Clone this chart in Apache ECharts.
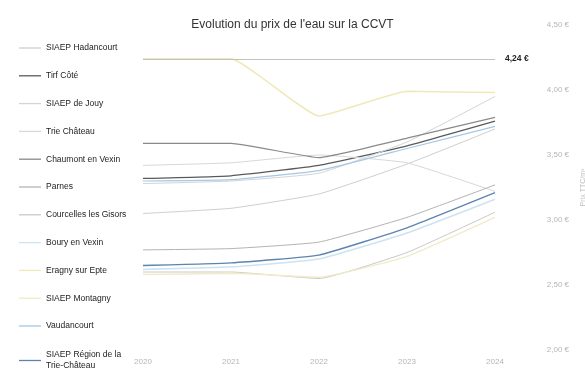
<!DOCTYPE html>
<html>
<head>
<meta charset="utf-8">
<script src="https://cdn.jsdelivr.net/npm/echarts@6/dist/echarts.min.js"></script>
<style>
  html, body { margin: 0; padding: 0; background: #fff; }
  #chart { width: 585px; height: 371px; }
</style>
</head>
<body>
<div id="chart"></div>
<script>
// Années
const years = ['2020', '2021', '2022', '2023', '2024'];

// Prix de l'eau (€ / m³) par commune ou syndicat
const names = [
  'SIAEP Hadancourt',
  'Tirf Côté',
  'SIAEP de Jouy',
  'Trie Château',
  'Chaumont en Vexin',
  'Parnes',
  'Courcelles les Gisors',
  'Boury en Vexin',
  'Eragny sur Epte',
  'SIAEP Montagny',
  'Vaudancourt',
  'SIAEP Région de la Trie-Château'
];

const hadancourt  = [3.05, 3.09, 3.20, 3.43, 3.70];
const tirfCote    = [3.32, 3.34, 3.42, 3.57, 3.76];
const jouy        = [3.28, 3.30, 3.36, 3.60, 3.95];
const trieChateau = [3.42, 3.44, 3.50, 3.44, 3.22];
const chaumont    = [3.59, 3.59, 3.48, 3.63, 3.79];
const parnes      = [2.77, 2.78, 2.83, 3.02, 3.27];
const courcelles  = [2.60, 2.60, 2.55, 2.75, 3.06];
const boury       = [2.62, 2.64, 2.70, 2.90, 3.16];
const eragny      = [4.24, 4.24, 3.80, 3.99, 3.98];
const montagny    = [2.58, 2.59, 2.56, 2.72, 3.02];
const vaudancourt = [3.30, 3.31, 3.38, 3.55, 3.72];
const regionTrie  = [2.65, 2.67, 2.73, 2.94, 3.21];

const values = [hadancourt, tirfCote, jouy, trieChateau, chaumont, parnes,
                courcelles, boury, eragny, montagny, vaudancourt, regionTrie];

// Échelle de l'axe des prix
const yMin = 2, yMax = 4.5, yStep = 0.5;

const colors = ['#cfcfcf', '#5a5a5a', '#d4d4d4', '#d8d8d8', '#8a8a8a', '#b3b3b3',
                '#c9c9c9', '#cde3f0', '#efe9b8', '#f0ecc8', '#a6c8e4', '#5d84b0'];
const widths = [1, 1.3, 1, 1, 1.2, 1, 1, 1.5, 1.5, 1.5, 1.2, 1.4];

const euro = v => v.toFixed(2).replace('.', ',') + ' €';

const series = names.map((name, i) => {
  const s = {
    name: name,
    type: 'line',
    data: values[i],
    smooth: 0.12,
    showSymbol: false,
    symbol: 'none',
    color: colors[i],
    lineStyle: { color: colors[i], width: widths[i] }
  };
  if (name === 'Eragny sur Epte') {
    s.markLine = {
      silent: true,
      symbol: 'none',
      data: [{ type: 'max' }],
      lineStyle: { color: '#c2c2c2', width: 1, type: 'solid' },
      label: {
        position: 'end',
        distance: 10,
        formatter: p => euro(p.value),
        fontSize: 8.5,
        fontWeight: 'bold',
        color: '#222'
      }
    };
  }
  return s;
});

// Style commun des deux blocs de légende
const legendBase = {
  orient: 'vertical',
  left: 19,
  padding: 0,
  itemWidth: 22,
  itemHeight: 8,
  itemGap: 16.8,
  icon: 'path://M0,4 L22,4 L22,5.3 L0,5.3 Z',
  textStyle: { fontSize: 8.5, color: '#222', lineHeight: 11, width: 84, overflow: 'break' }
};

const chart = echarts.init(document.getElementById('chart'), null, { renderer: 'canvas' });
chart.setOption({
  animation: false,
  backgroundColor: '#fff',
  textStyle: { fontFamily: 'Liberation Sans, Arial, sans-serif' },
  title: {
    text: "Evolution du prix de l'eau sur la CCVT",
    left: 'center',
    top: 14,
    textStyle: { fontSize: 12, fontWeight: 'normal', color: '#333' }
  },
  legend: [
    Object.assign({}, legendBase, { top: 42.5, data: names.slice(0, 11) }),
    Object.assign({}, legendBase, { top: 349.5, data: names.slice(11) })
  ],
  grid: { left: 143, right: 90, top: 25, bottom: 21, outerBoundsMode: 'none', containLabel: false },
  xAxis: {
    type: 'category',
    data: years,
    boundaryGap: false,
    axisLine: { show: false },
    axisTick: { show: false },
    axisLabel: { fontSize: 8, color: '#b5b5b5', margin: 8 }
  },
  yAxis: {
    type: 'value',
    position: 'right',
    min: yMin,
    max: yMax,
    interval: yStep,
    axisLine: { show: false },
    axisTick: { show: false },
    splitLine: { show: false },
    axisLabel: { fontSize: 8, color: '#b5b5b5', align: 'right', margin: 74, formatter: v => euro(v) },
    name: 'Prix TTC/m³',
    nameLocation: 'middle',
    nameGap: 85,
    nameTextStyle: { fontSize: 7, color: '#bdbdbd' }
  },
  series: series
});
</script>
</body>
</html>
